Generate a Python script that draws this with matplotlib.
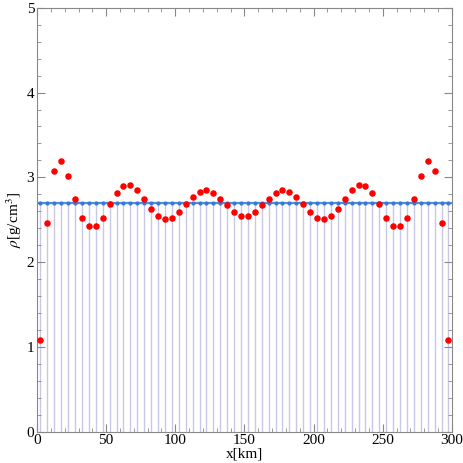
import numpy as np
import matplotlib
matplotlib.use("Agg")
import matplotlib.pyplot as plt
from matplotlib.ticker import MultipleLocator

plt.rcParams["font.family"] = ["Liberation Serif", "DejaVu Serif"]
plt.rcParams["mathtext.fontset"] = "stix"

x_km = np.arange(2.5, 300, 5.0)
rho = [1.08, 2.46, 3.08, 3.19, 3.02, 2.75, 2.52, 2.42, 2.42, 2.52,
       2.68, 2.82, 2.90, 2.91, 2.85, 2.74, 2.63, 2.54, 2.51, 2.52,
       2.59, 2.68, 2.77, 2.83, 2.85, 2.82, 2.74, 2.67, 2.59, 2.54,
       2.54, 2.59, 2.67, 2.74, 2.82, 2.85, 2.83, 2.77, 2.68, 2.59,
       2.52, 2.51, 2.54, 2.63, 2.74, 2.85, 2.91, 2.90, 2.82, 2.68,
       2.52, 2.42, 2.42, 2.52, 2.75, 3.02, 3.19, 3.08, 2.46, 1.08]
rho_mean = 2.7

fig = plt.figure(figsize=(4.63, 4.63), dpi=100)
ax = fig.add_axes([0.080, 0.068, 0.896, 0.915])

ax.vlines(x_km, 0, rho_mean, color="#c8c8e6", linewidth=1.0, zorder=1)
ax.axhline(rho_mean, color="#4a90e2", linewidth=1.6, zorder=2)
ax.scatter(x_km, np.full_like(x_km, rho_mean), color="#3a78d8", s=4, zorder=3)
ax.scatter(x_km, rho, color="red", s=22, zorder=4, linewidths=0)

ax.set_xlim(0, 300)
ax.set_ylim(0, 5)
ax.xaxis.set_major_locator(MultipleLocator(50))
ax.xaxis.set_minor_locator(MultipleLocator(10))
ax.yaxis.set_major_locator(MultipleLocator(1))
ax.yaxis.set_minor_locator(MultipleLocator(0.2))
ax.tick_params(which="both", direction="in", top=True, right=True, color="#888888",
               labelsize=11, pad=2)
ax.tick_params(which="major", length=6)
ax.tick_params(which="minor", length=3)
for s in ax.spines.values():
    s.set_color("#888888")

ax.set_xlabel("x[km]", fontsize=11, labelpad=0)
ax.set_ylabel(r"$\rho$[g/cm$^3$]", fontsize=11, labelpad=2)

fig.savefig("out.png", dpi=100)
